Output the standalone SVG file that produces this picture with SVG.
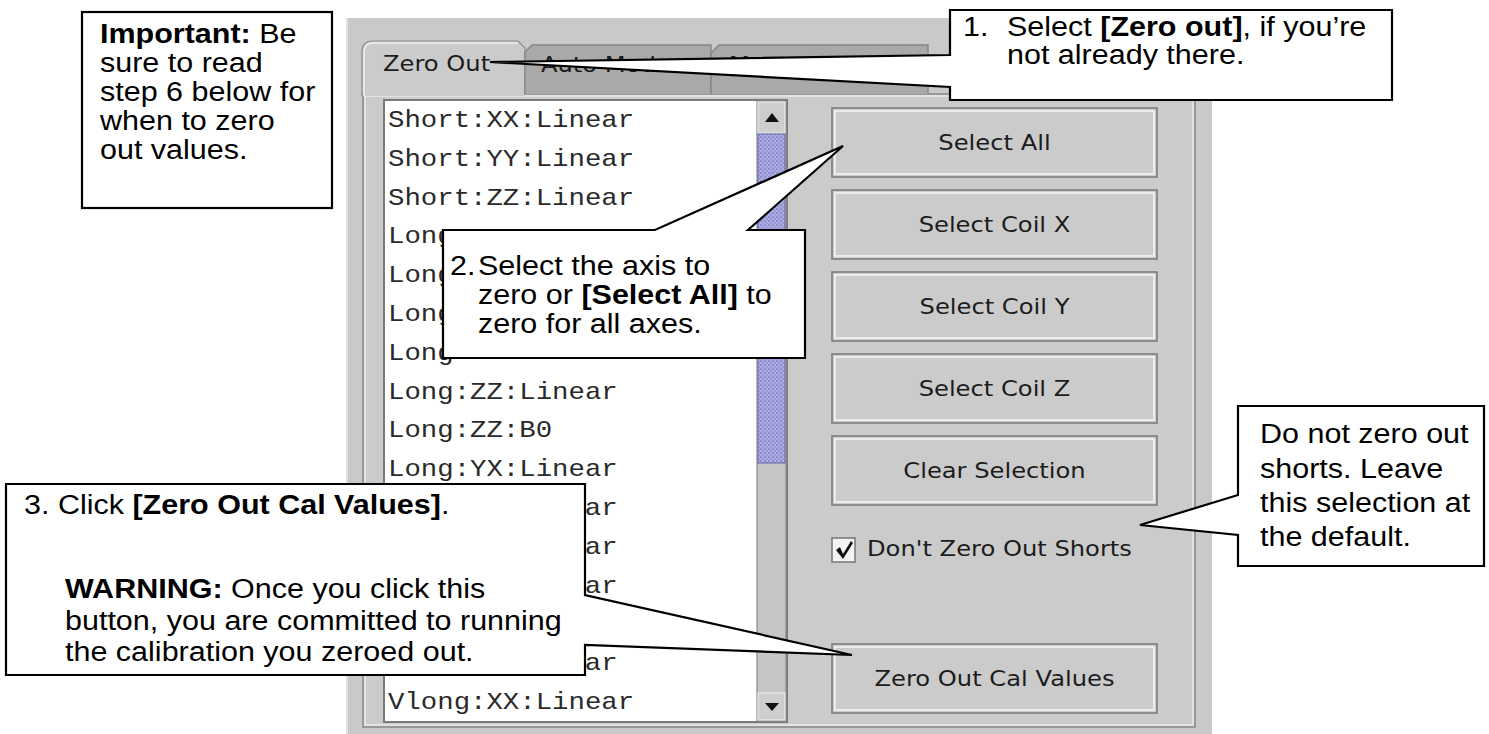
<svg xmlns="http://www.w3.org/2000/svg" width="1489" height="734" viewBox="0 0 1489 734">
  <defs>
    <style>
      .ui{font-family:"DejaVu Sans",Verdana,sans-serif;font-size:22px;fill:#1c1c1c}
      .li{font-family:"Liberation Mono","DejaVu Sans Mono",monospace;font-size:24px;fill:#2a2a2a}
      .co{font-family:"Liberation Sans",Arial,sans-serif;font-size:27px;fill:#000}
      .b{font-weight:bold}
      .box{fill:#fff;stroke:#000;stroke-width:2.2;stroke-linejoin:miter}
      .btn{fill:#cbcbcb;stroke:#7c7c7c;stroke-width:1.6}
      .btnhi{fill:none;stroke:#f3f3f3;stroke-width:1.6}
      .tab{fill:#a9a9a9;stroke:#858585;stroke-width:1.4}
      .arrow{fill:#111}
    </style>
    <pattern id="dots" width="4" height="4" patternUnits="userSpaceOnUse">
      <rect width="4" height="4" fill="#acace2"/>
      <rect width="2" height="2" fill="#8d8dcc"/>
      <rect x="2" y="2" width="2" height="2" fill="#9a9ad6"/>
    </pattern>
  </defs>

  <rect width="1489" height="734" fill="#fff"/>

  <!-- Zero Out panel -->
  <g id="panel">
    <rect x="346" y="18" width="866" height="716" fill="#c9c9c9"/>
    <line x1="347" y1="18" x2="347" y2="734" stroke="#e2e2e2" stroke-width="2"/>
    <!-- tab content frame -->
    <rect x="363" y="94" width="832" height="633" fill="#cbcbcb" stroke="#8c8c8c" stroke-width="1.6"/>
    <rect x="365" y="96" width="828" height="629" fill="none" stroke="#ececec" stroke-width="1.4"/>
  </g>

  <g id="tabs">
    <path class="tab" d="M524,94 L524,53 L532,45 L711,45 L711,94"/>
    <path class="tab" d="M711,94 L711,53 L719,45 L928,45 L928,94"/>
    <path d="M363,96 L363,52 Q363,42 373,42 L518,42 L524,48 L524,96 Z" fill="#cbcbcb"/>
    <path d="M364,96 L364,52 Q364,43 373,43 L518,43" fill="none" stroke="#efefef" stroke-width="1.6"/>
    <path d="M362,96 L362,52 Q362,41 373,41 L518,41 L525,48 L525,94" fill="none" stroke="#8c8c8c" stroke-width="1.2"/>
    <text class="ui" transform="matrix(1.1 0 0 1 383 71)">Zero Out</text>
    <text class="ui" transform="matrix(1.1 0 0 1 541 72)">Auto Mode</text>
    <text class="ui" transform="matrix(1.1 0 0 1 729 72)">Manual Mode</text>
  </g>

  <!-- coil list with scrollbar; rows behind the callouts show only their uncovered part -->
  <g id="coil-list">
    <rect x="384" y="100" width="403" height="622" fill="#fff" stroke="#7a7a7a" stroke-width="2"/>
    <text class="li" transform="matrix(1.14 0 0 1 388 127)">Short:XX:Linear</text>
    <text class="li" transform="matrix(1.14 0 0 1 388 166)">Short:YY:Linear</text>
    <text class="li" transform="matrix(1.14 0 0 1 388 205)">Short:ZZ:Linear</text>
    <text class="li" transform="matrix(1.14 0 0 1 388 243)">Long</text>
    <text class="li" transform="matrix(1.14 0 0 1 388 282)">Long</text>
    <text class="li" transform="matrix(1.14 0 0 1 388 321)">Long</text>
    <text class="li" transform="matrix(1.14 0 0 1 388 360)">Long</text>
    <text class="li" transform="matrix(1.14 0 0 1 388 399)">Long:ZZ:Linear</text>
    <text class="li" transform="matrix(1.14 0 0 1 388 437)">Long:ZZ:B0</text>
    <text class="li" transform="matrix(1.14 0 0 1 388 476)">Long:YX:Linear</text>
    <text class="li" transform="matrix(1.14 0 0 1 584.8 515)">ar</text>
    <text class="li" transform="matrix(1.14 0 0 1 584.8 554)">ar</text>
    <text class="li" transform="matrix(1.14 0 0 1 584.8 593)">ar</text>
    <text class="li" transform="matrix(1.14 0 0 1 584.8 670)">ar</text>
    <text class="li" transform="matrix(1.14 0 0 1 388 709)">Vlong:XX:Linear</text>
    <!-- scrollbar -->
    <rect x="757" y="101" width="29" height="620" fill="#c6c6c6" stroke="#8a8a8a" stroke-width="1.2"/>
    <rect x="758" y="102" width="27" height="31" fill="#cdcdcd" stroke="#f0f0f0" stroke-width="1"/>
    <polygon class="arrow" points="765,122 779,122 772,113"/>
    <rect x="758" y="134" width="27" height="329" fill="url(#dots)" stroke="#7272ae" stroke-width="1.2"/>
    <rect x="758" y="693" width="27" height="27" fill="#cdcdcd" stroke="#f0f0f0" stroke-width="1"/>
    <polygon class="arrow" points="765,703 779,703 772,711"/>
  </g>

  <g id="btn-select-all">
    <rect class="btn" x="832" y="108" width="325" height="69"/>
    <rect class="btnhi" x="835" y="111" width="319" height="63"/>
    <text class="ui" text-anchor="middle" transform="matrix(1.1 0 0 1 994.5 150)">Select All</text>
  </g>
  <g id="btn-coil-x">
    <rect class="btn" x="832" y="190" width="325" height="69"/>
    <rect class="btnhi" x="835" y="193" width="319" height="63"/>
    <text class="ui" text-anchor="middle" transform="matrix(1.1 0 0 1 994.5 232)">Select Coil X</text>
  </g>
  <g id="btn-coil-y">
    <rect class="btn" x="832" y="272" width="325" height="69"/>
    <rect class="btnhi" x="835" y="275" width="319" height="63"/>
    <text class="ui" text-anchor="middle" transform="matrix(1.1 0 0 1 994.5 314)">Select Coil Y</text>
  </g>
  <g id="btn-coil-z">
    <rect class="btn" x="832" y="354" width="325" height="69"/>
    <rect class="btnhi" x="835" y="357" width="319" height="63"/>
    <text class="ui" text-anchor="middle" transform="matrix(1.1 0 0 1 994.5 396)">Select Coil Z</text>
  </g>
  <g id="btn-clear">
    <rect class="btn" x="832" y="436" width="325" height="69"/>
    <rect class="btnhi" x="835" y="439" width="319" height="63"/>
    <text class="ui" text-anchor="middle" transform="matrix(1.1 0 0 1 994.5 478)">Clear Selection</text>
  </g>
  <g id="chk-shorts">
    <rect x="832" y="538" width="23" height="24" fill="#f4f4f4" stroke="#7c7c7c" stroke-width="1.6"/>
    <path d="M836,550 L840,547 L843,554 L851,541 L853,543 L843,559 Z" fill="#111"/>
    <text class="ui" transform="matrix(1.1 0 0 1 867 556)">Don't Zero Out Shorts</text>
  </g>
  <g id="btn-zero-out">
    <rect class="btn" x="832" y="644" width="325" height="69"/>
    <rect class="btnhi" x="835" y="647" width="319" height="63"/>
    <text class="ui" text-anchor="middle" transform="matrix(1.1 0 0 1 994.5 686)">Zero Out Cal Values</text>
  </g>

  <!-- callouts: box outline and pointer drawn as one shape -->
  <g id="note-important">
    <rect class="box" x="82" y="12" width="250" height="196"/>
    <text class="co" transform="matrix(1.13 0 0 1 100 43)"><tspan class="b">Important:</tspan> Be</text>
    <text class="co" transform="matrix(1.13 0 0 1 100 72)">sure to read</text>
    <text class="co" transform="matrix(1.13 0 0 1 100 101)">step 6 below for</text>
    <text class="co" transform="matrix(1.13 0 0 1 100 130)">when to zero</text>
    <text class="co" transform="matrix(1.13 0 0 1 100 159)">out values.</text>
  </g>

  <g id="step-1">
    <path class="box" d="M950,10 L1392,10 L1392,100 L950,100 L950,87 L490,62 L950,55 Z"/>
    <text class="co" transform="matrix(1.13 0 0 1 963 36)">1.</text>
    <text class="co" transform="matrix(1.13 0 0 1 1007 36)">Select <tspan class="b">[Zero out]</tspan>, if you’re</text>
    <text class="co" transform="matrix(1.13 0 0 1 1007 64)">not already there.</text>
  </g>

  <g id="step-2">
    <path class="box" d="M443,230 L655,230 L843,146 L748,230 L805,230 L805,358 L443,358 Z"/>
    <text class="co" transform="matrix(1.13 0 0 1 450 275)">2.</text>
    <text class="co" transform="matrix(1.13 0 0 1 478 275)">Select the axis to</text>
    <text class="co" transform="matrix(1.13 0 0 1 478 304)">zero or <tspan class="b">[Select All]</tspan> to</text>
    <text class="co" transform="matrix(1.13 0 0 1 478 333)">zero for all axes.</text>
  </g>

  <g id="step-3">
    <path class="box" d="M6,484 L585,484 L585,595 L852,655 L585,645 L585,675 L6,675 Z"/>
    <text class="co" transform="matrix(1.13 0 0 1 24 514)">3. Click <tspan class="b">[Zero Out Cal Values]</tspan>.</text>
    <text class="co" transform="matrix(1.13 0 0 1 65 598)"><tspan class="b">WARNING:</tspan> Once you click this</text>
    <text class="co" transform="matrix(1.13 0 0 1 65 630)">button, you are committed to running</text>
    <text class="co" transform="matrix(1.13 0 0 1 65 661)">the calibration you zeroed out.</text>
  </g>

  <g id="note-shorts">
    <path class="box" d="M1238,406 L1484,406 L1484,566 L1238,566 L1238,535 L1140,525 L1238,495 Z"/>
    <text class="co" transform="matrix(1.13 0 0 1 1260 443)">Do not zero out</text>
    <text class="co" transform="matrix(1.13 0 0 1 1260 478)">shorts. Leave</text>
    <text class="co" transform="matrix(1.13 0 0 1 1260 512)">this selection at</text>
    <text class="co" transform="matrix(1.13 0 0 1 1260 546)">the default.</text>
  </g>
</svg>
